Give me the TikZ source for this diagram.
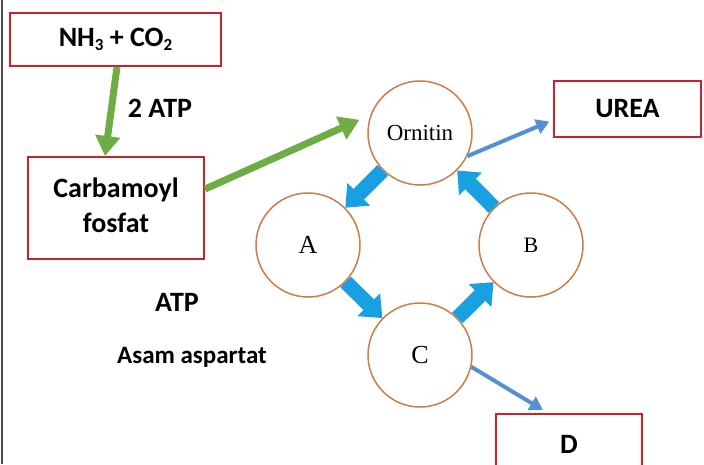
\documentclass[tikz,border=0pt]{standalone}
\usepackage{fontspec}
\setmainfont{Carlito}
\newfontfamily\serifA{Liberation Serif}
\usetikzlibrary{arrows.meta,calc}
\definecolor{boxred}{RGB}{200,35,45}
\definecolor{circbrown}{RGB}{205,125,75}
\definecolor{arrgreen}{RGB}{110,172,70}
\definecolor{thickblue}{RGB}{25,160,225}
\definecolor{thinblue}{RGB}{85,145,210}
\newcommand\subsc[1]{\raisebox{-0.25ex}{\fontsize{17}{17}\selectfont #1}}
\begin{document}
\begin{tikzpicture}[x=1pt,y=-1pt,
 box/.style={draw=boxred,line width=2pt,fill=white,inner sep=0pt,align=center,font=\bfseries\fontsize{28}{35}\selectfont},
 circ/.style={circle,draw=circbrown,line width=1.5pt,fill=white,minimum size=104pt,inner sep=0pt,font=\serifA\fontsize{23}{26}\selectfont},
 biglet/.style={font=\serifA\fontsize{26}{28}\selectfont},
 lbl/.style={font=\bfseries\fontsize{28}{30}\selectfont,inner sep=0pt},
 greenarrow/.style={draw=arrgreen,line width=7pt,-{Triangle[length=20pt,width=24pt]}},
 thickarrow/.style={draw=thickblue,line width=15pt,-{Triangle[length=19pt,width=31pt]}},
 thinarrow/.style={draw=thinblue,line width=4pt,-{Triangle[length=13pt,width=15pt]}}]
\useasboundingbox (0,0) rectangle (704,464);
\clip (0,0) rectangle (704,464);
\fill[white] (0,0) rectangle (704,464);
\draw[line width=2pt, gray!60!black] (2,0) -- (2,464);

% boxes
\node[box,minimum width=211pt,minimum height=53pt] (nh) at (115.5,39.5) {NH\subsc{3} + CO\subsc{2}};
\node[box,minimum width=176pt,minimum height=102pt] (carb) at (116,208) {\raisebox{3pt}{\begin{tabular}{@{}c@{}}Carbamoyl\\fosfat\end{tabular}}};
\node[box,minimum width=147pt,minimum height=56pt] (urea) at (627.5,109) {UREA};
\node[box,minimum width=146pt,minimum height=60pt] (d) at (569,444) {D};

% labels
\node[lbl] (atp2) at (160,108) {2 ATP};
\node[lbl] (atp) at (177,302) {ATP};
\node[lbl,font=\bfseries\fontsize{25}{28}\selectfont] (asp) at (192,357) {Asam aspartat};

% circles
\node[circ] (orn) at (420,133) {Ornitin};
\node[circ,biglet] (a) at (308,245) {A};
\node[circ,font=\serifA\fontsize{22}{26}\selectfont] (b) at (531,245) {B};
\node[circ,biglet] (c) at (420,355) {C};

% arrows
\draw[greenarrow] ($(nh.south)+(1.5,0)$) -- ($(carb.north)+(-11,0)$);
\draw[greenarrow,shorten >=12pt] (carb.12) -- (orn.160);
\draw[thickarrow] (orn) -- (a);
\draw[thickarrow] (a) -- (c);
\draw[thickarrow] (c) -- (b);
\draw[thickarrow] (b) -- (orn);
\draw[thinarrow,shorten >=4pt] (orn.-26) -- ($(urea.west)+(0,11)$);
\draw[thinarrow,shorten >=6pt] (c.-13) -- ($(d.north)+(-21,0)$);
\end{tikzpicture}
\end{document}
